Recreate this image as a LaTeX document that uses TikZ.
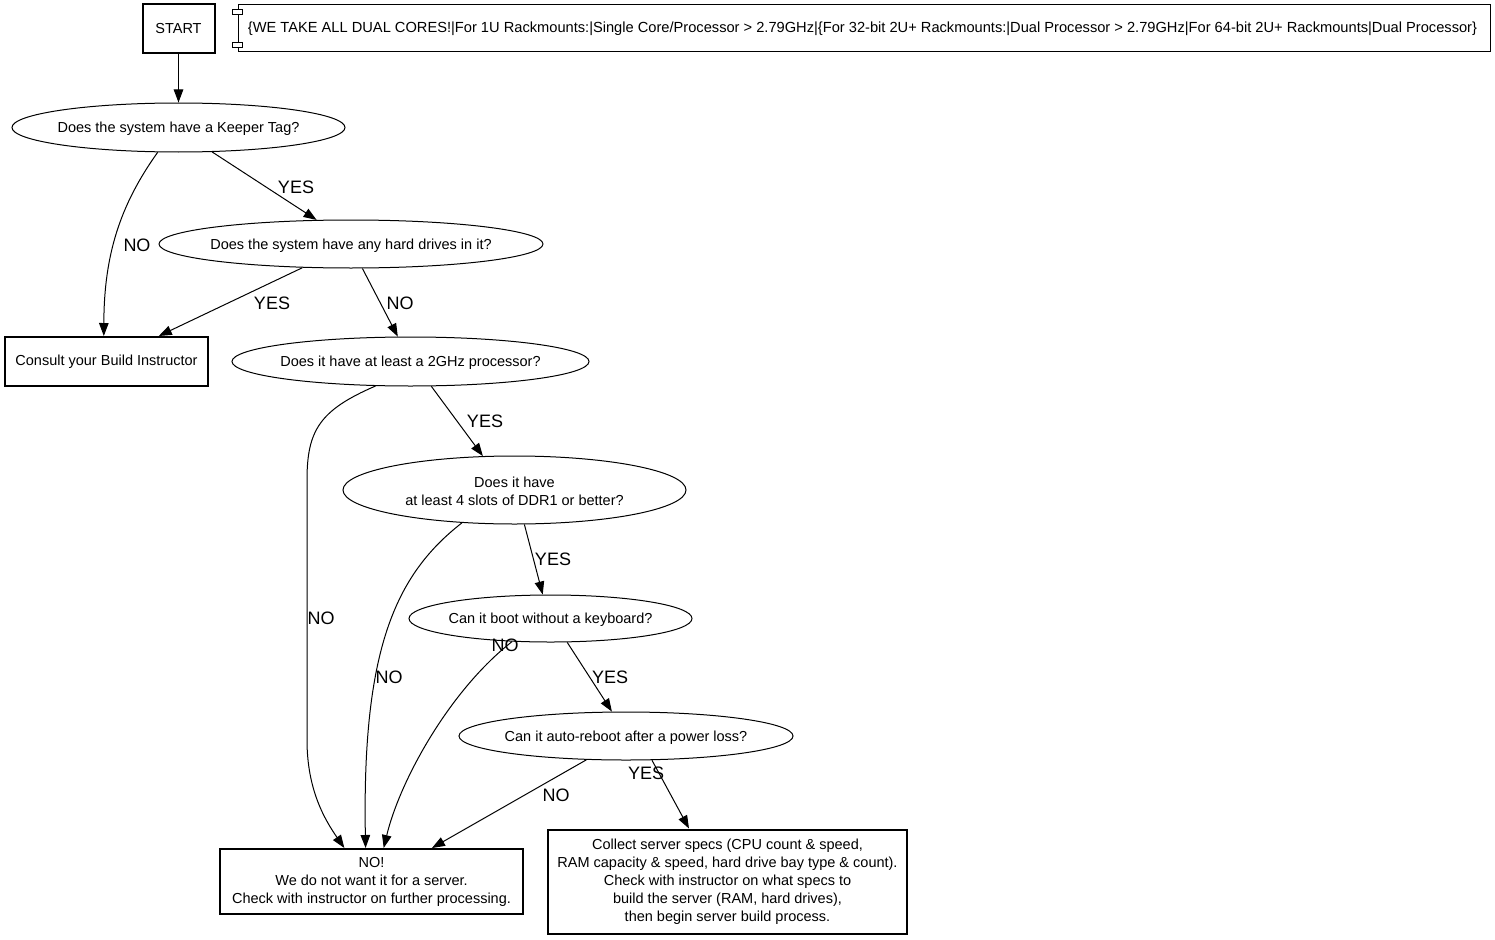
\documentclass[tikz,border=0pt]{standalone}
\usepackage{fontspec}
\setmainfont{Liberation Sans}
\usetikzlibrary{arrows.meta,shapes.geometric}

% text of a question that must not widen its ellipse
\newcommand{\qline}[1]{\makebox[0pt]{\raisebox{-1.5pt}[\height][\depth]{#1}}}

\begin{document}
\begin{tikzpicture}[x=1pt,y=-1pt,line width=1pt,
    >={Triangle[length=13pt,width=9.5pt]},
    every node/.style={font=\fontsize{14.5}{18}\selectfont},
    question/.style={ellipse,draw,inner sep=0pt,align=center},
    action/.style={rectangle,draw,line width=2pt,inner sep=0pt,align=center},
    answer/.style={font=\fontsize{18}{20}\selectfont,inner sep=0pt}]
  \useasboundingbox (0,0) rectangle (1495,939);

  \node[action,minimum width=72,minimum height=49] (start) at (178.5,28.5) {START};
  \node[draw,minimum width=1252,minimum height=47,inner sep=0pt,font=\fontsize{14.65}{18}\selectfont] (cores) at (864,28.5)
    {\hspace*{-3pt}\{WE TAKE ALL DUAL CORES!|For 1U Rackmounts:|Single Core/Processor > 2.79GHz|\{For 32-bit 2U+ Rackmounts:|Dual Processor > 2.79GHz|For 64-bit 2U+ Rackmounts|Dual Processor\}};
  \draw[fill=white] ([shift={(-5,5)}]cores.north west) rectangle ++(10,5);
  \draw[fill=white] ([shift={(-5,-10)}]cores.south west) rectangle ++(10,5);

  \node[question,minimum width=333,minimum height=49] (keeper) at (178.5,127.5) {\qline{Does the system have a Keeper Tag?}};
  \node[question,minimum width=384,minimum height=48] (drives) at (351,244) {\qline{Does the system have any hard drives in it?}};
  \node[action,minimum width=203,minimum height=49] (consult) at (106.5,361.5) {Consult your Build Instructor};
  \node[question,minimum width=357,minimum height=49] (ghz) at (410.5,361.5) {\qline{Does it have at least a 2GHz processor?}};
  \node[question,minimum width=343,minimum height=68] (ddr) at (514.5,490) {\qline{Does it have}\\\qline{at least 4 slots of DDR1 or better?}};
  \node[question,minimum width=283,minimum height=47] (kbd) at (550.5,618.5) {\qline{Can it boot without a keyboard?}};
  \node[question,minimum width=334,minimum height=48] (reboot) at (626,736) {\qline{Can it auto-reboot after a power loss?}};
  \node[action,minimum width=303,minimum height=65] (reject) at (371.5,881.5)
    {NO!\\We do not want it for a server.\\Check with instructor on further processing.};
  \node[action,minimum width=359,minimum height=104] (collect) at (727.5,881.5)
    {Collect server specs (CPU count \& speed,\\RAM capacity \& speed, hard drive bay type \& count).\\Check with instructor on what specs to\\build the server (RAM, hard drives),\\then begin server build process.};

  \path[->]
    (start)       edge (keeper)
    (keeper.324)  edge (drives.145)
    (drives.206)  edge (consult.26)
    (drives.295)  edge (ghz.117)
    (ghz.310)     edge (ddr.133)
    (ddr.286)     edge (kbd.108)
    (kbd.305)     edge (reboot.120)
    (reboot.211)  edge (reject.29)
    (reboot.317)  edge (collect.126);
  \draw[->] (keeper.230) .. controls (120,205) and (104,255) .. (consult.96);
  \draw[->] (ghz.215) .. controls (320,410) and (307,430) .. (307,480)
    -- (307,740) .. controls (307,790) and (325,820) .. (reject.129);
  \draw[->] (ddr.212) .. controls (395,575) and (362,650) .. (reject.100);
  \draw[->] (kbd.211) .. controls (450,690) and (400,780) .. (reject.70);

  % answers on the edges
  \node[answer] (l_keeper_no)  at (137,245) {NO};
  \node[answer] (l_keeper_yes) at (296,187) {YES};
  \node[answer] (l_drives_yes) at (272,303) {YES};
  \node[answer] (l_drives_no)  at (400,303) {NO};
  \node[answer] (l_ghz_no)     at (321,618) {NO};
  \node[answer] (l_ghz_yes)    at (485,421) {YES};
  \node[answer] (l_ddr_no)     at (389,677) {NO};
  \node[answer] (l_ddr_yes)    at (553,559) {YES};
  \node[answer] (l_kbd_no)     at (505,645) {NO};
  \node[answer] (l_kbd_yes)    at (610,677) {YES};
  \node[answer] (l_reboot_no)  at (556,795) {NO};
  \node[answer] (l_reboot_yes) at (646,773) {YES};
\end{tikzpicture}
\end{document}
